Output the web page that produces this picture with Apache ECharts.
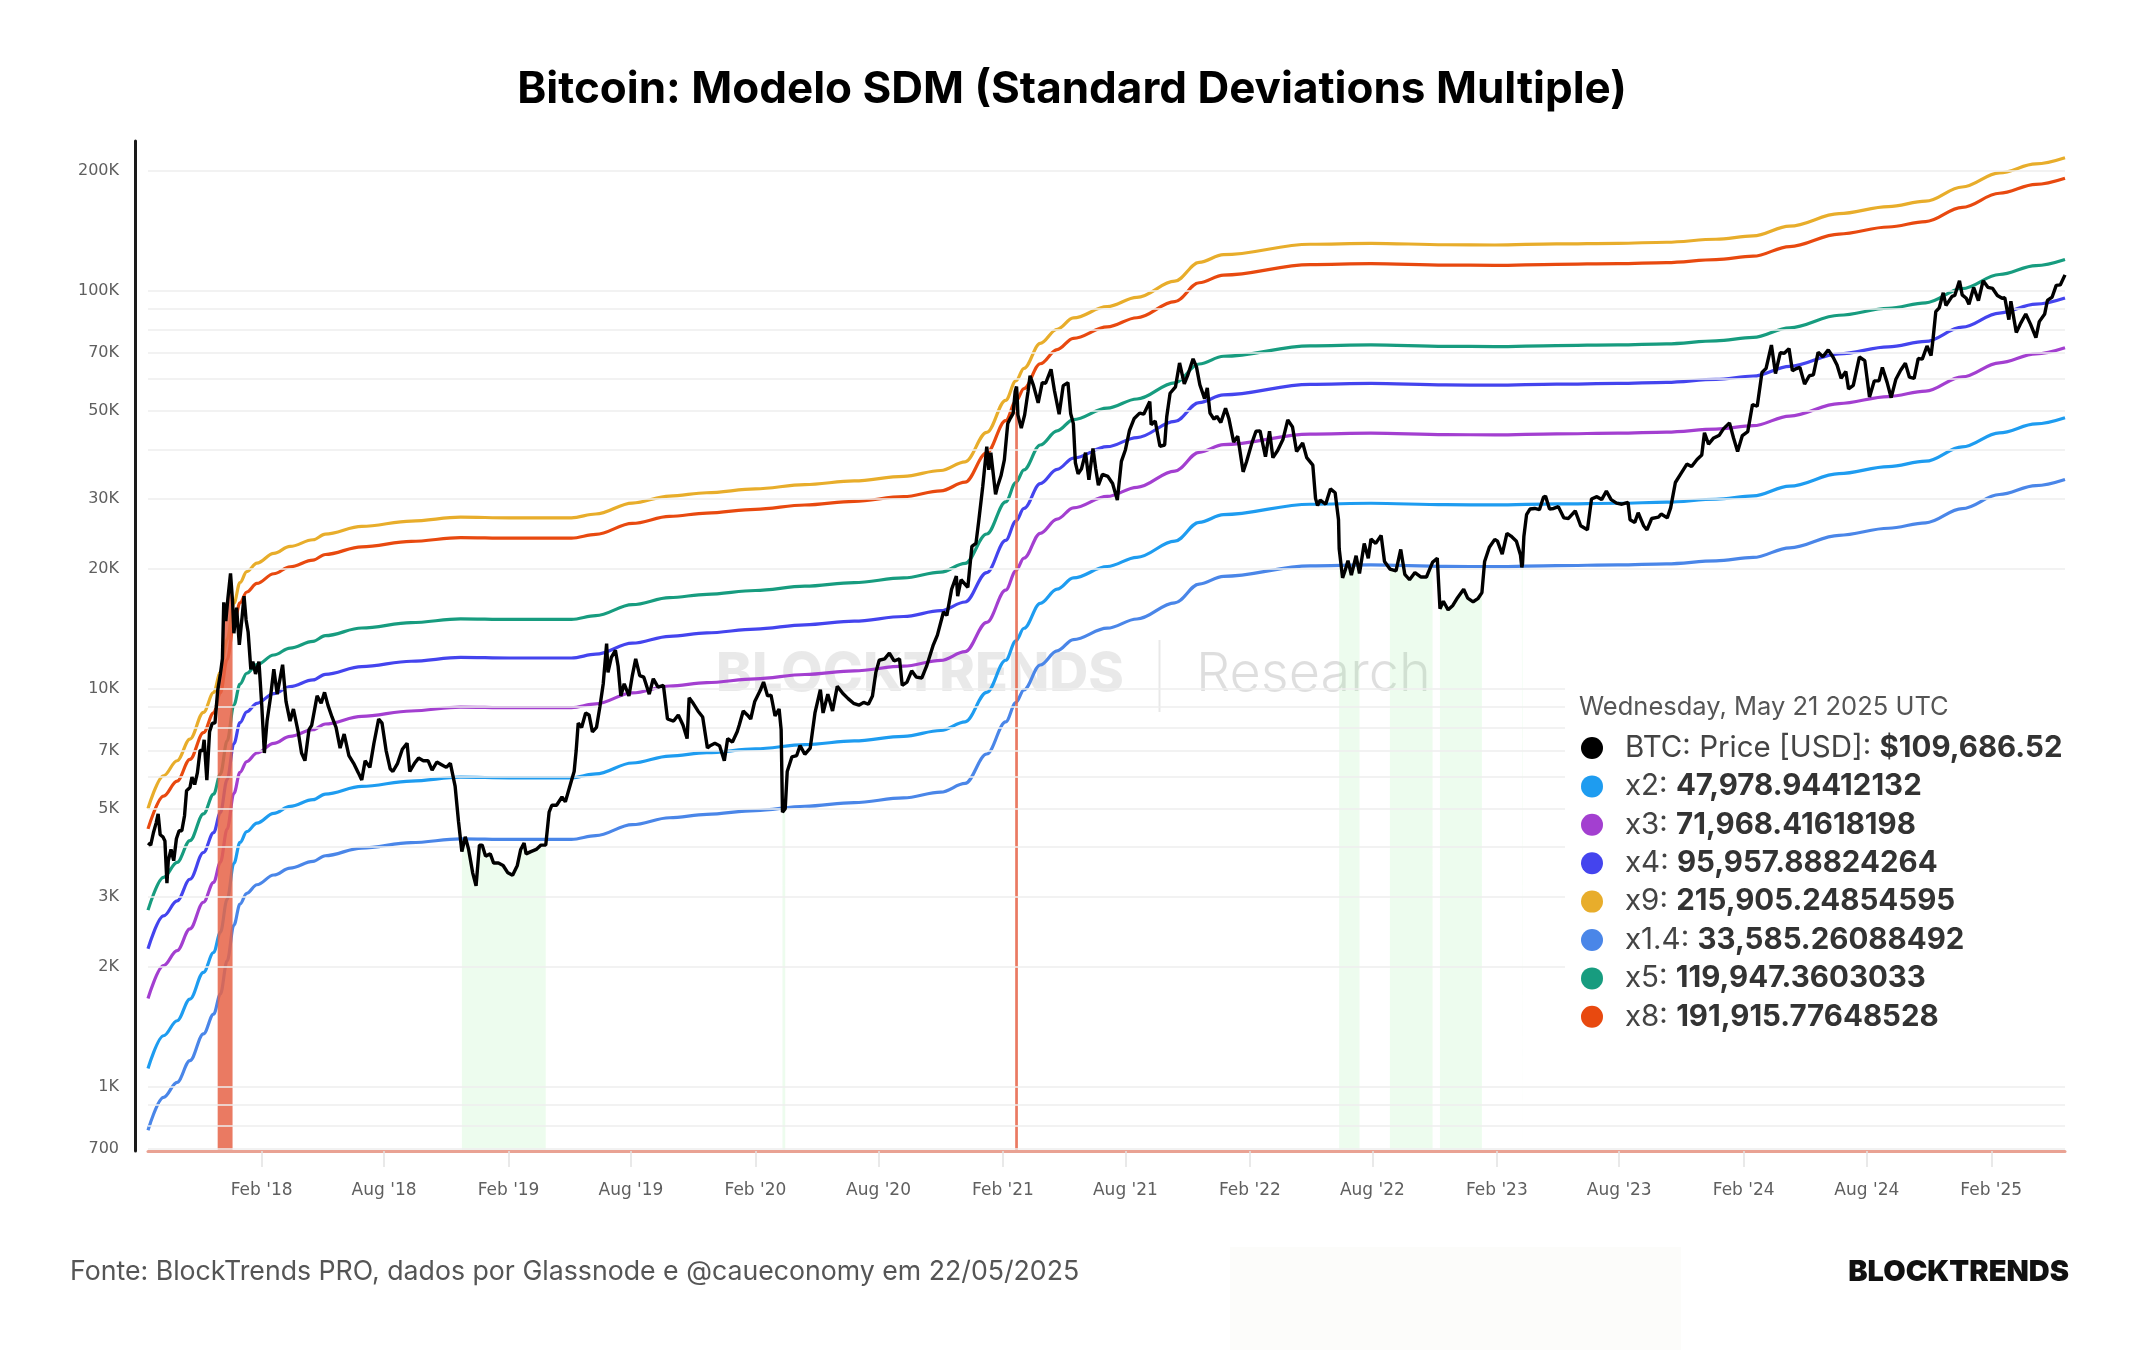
<!DOCTYPE html>
<html><head><meta charset="utf-8">
<script src="https://cdn.jsdelivr.net/npm/echarts@6/dist/echarts.min.js"></script>
<style>html,body{margin:0;padding:0;background:#fff}#c{width:2144px;height:1350px}</style>
</head><body><div id="c"></div>
<script>
// ---------------- DATA ----------------
const btcPrice = [
['2017-08-17',4100],['2017-08-21',4050],['2017-08-25',4350],['2017-08-29',4600],['2017-09-01',4850],['2017-09-04',4300],['2017-09-08',4250],['2017-09-11',4150],['2017-09-14',3250],['2017-09-16',3700],['2017-09-20',3950],['2017-09-24',3700],['2017-09-28',4200],
['2017-10-02',4400],['2017-10-06',4400],['2017-10-10',4800],['2017-10-13',5550],['2017-10-18',5650],['2017-10-21',6000],['2017-10-25',5750],['2017-10-29',6150],['2017-11-02',7000],['2017-11-06',7000],['2017-11-08',7450],['2017-11-12',5900],['2017-11-16',7800],['2017-11-20',8200],['2017-11-24',8200],['2017-11-28',9900],
['2017-12-02',10900],['2017-12-05',11900],['2017-12-07',16500],['2017-12-10',14800],['2017-12-13',16800],['2017-12-17',19500],['2017-12-20',16600],['2017-12-22',13800],['2017-12-26',16000],['2017-12-30',12900],
['2018-01-03',15100],['2018-01-06',17100],['2018-01-09',14900],['2018-01-12',13900],['2018-01-16',11200],['2018-01-19',11700],['2018-01-23',10900],['2018-01-28',11700],['2018-02-01',9200],['2018-02-05',6900],['2018-02-09',8300],['2018-02-14',9500],['2018-02-19',11200],['2018-02-24',9700],
['2018-03-04',11500],['2018-03-09',9300],['2018-03-15',8300],['2018-03-20',8900],['2018-03-27',7800],['2018-04-01',6900],['2018-04-06',6600],['2018-04-12',7900],['2018-04-16',8100],['2018-04-24',9600],['2018-04-30',9200],['2018-05-05',9800],['2018-05-10',9100],['2018-05-16',8500],['2018-05-22',8000],['2018-05-28',7100],
['2018-06-03',7700],['2018-06-10',6800],['2018-06-17',6500],['2018-06-24',6150],['2018-06-29',5900],['2018-07-04',6600],['2018-07-11',6350],['2018-07-17',7300],['2018-07-24',8400],['2018-07-29',8200],['2018-08-04',7000],['2018-08-10',6300],['2018-08-14',6200],['2018-08-21',6500],['2018-08-28',7050],
['2018-09-04',7300],['2018-09-08',6200],['2018-09-15',6500],['2018-09-21',6700],['2018-09-28',6600],['2018-10-05',6600],['2018-10-11',6250],['2018-10-18',6550],['2018-10-25',6450],['2018-11-01',6350],['2018-11-07',6500],['2018-11-14',5700],['2018-11-19',4650],['2018-11-24',3900],['2018-11-29',4250],
['2018-12-04',3950],['2018-12-10',3450],['2018-12-15',3200],['2018-12-20',4050],['2018-12-24',4050],['2018-12-29',3800],['2019-01-05',3850],['2019-01-10',3650],['2019-01-17',3650],['2019-01-24',3600],['2019-01-31',3450],['2019-02-07',3400],['2019-02-14',3600],['2019-02-19',3950],['2019-02-24',4100],['2019-02-27',3850],
['2019-03-06',3900],['2019-03-14',3950],['2019-03-21',4050],['2019-03-28',4050],['2019-04-02',4900],['2019-04-06',5100],['2019-04-13',5100],['2019-04-21',5350],['2019-04-26',5200],['2019-05-04',5800],['2019-05-09',6200],['2019-05-12',7000],['2019-05-15',8200],['2019-05-20',8000],['2019-05-26',8700],['2019-05-31',8600],
['2019-06-05',7800],['2019-06-11',8000],['2019-06-16',9000],['2019-06-21',10300],['2019-06-26',13000],['2019-06-28',11000],['2019-07-03',12000],['2019-07-09',12500],['2019-07-13',11400],['2019-07-17',9600],['2019-07-22',10300],['2019-07-29',9600],['2019-08-03',10800],['2019-08-08',11900],['2019-08-14',10800],['2019-08-20',10700],['2019-08-28',9700],
['2019-09-03',10600],['2019-09-10',10100],['2019-09-18',10200],['2019-09-24',8400],['2019-10-03',8300],['2019-10-10',8600],['2019-10-17',8100],['2019-10-23',7500],['2019-10-26',9500],['2019-11-01',9200],['2019-11-08',8800],['2019-11-15',8500],['2019-11-22',7100],['2019-11-26',7200],
['2019-12-03',7300],['2019-12-10',7200],['2019-12-17',6600],['2019-12-22',7500],['2019-12-29',7350],['2020-01-05',7800],['2020-01-08',8100],['2020-01-14',8800],['2020-01-20',8600],['2020-01-25',8400],['2020-01-31',9300],['2020-02-08',9900],['2020-02-13',10400],['2020-02-19',9600],['2020-02-24',9650],
['2020-03-01',8550],['2020-03-07',8900],['2020-03-10',7900],['2020-03-12',4900],['2020-03-16',5000],['2020-03-19',6200],['2020-03-26',6750],['2020-04-02',6800],['2020-04-07',7200],['2020-04-14',6850],['2020-04-22',7100],['2020-04-29',8700],['2020-05-07',9950],['2020-05-11',8700],['2020-05-18',9700],['2020-05-25',8800],
['2020-06-01',10150],['2020-06-09',9750],['2020-06-17',9450],['2020-06-25',9200],['2020-07-03',9100],['2020-07-10',9250],['2020-07-17',9150],['2020-07-23',9600],['2020-07-28',11000],['2020-08-02',11800],['2020-08-10',11900],['2020-08-17',12300],['2020-08-24',11750],
['2020-09-01',11900],['2020-09-05',10200],['2020-09-12',10400],['2020-09-19',11100],['2020-09-26',10700],['2020-10-04',10650],['2020-10-11',11400],['2020-10-21',12900],['2020-10-27',13650],['2020-11-05',15600],['2020-11-10',15300],['2020-11-17',17800],['2020-11-24',19200],['2020-11-26',17100],
['2020-12-01',18800],['2020-12-11',18000],['2020-12-17',22800],['2020-12-23',23200],['2020-12-27',26300],['2021-01-02',32200],['2021-01-08',40600],['2021-01-11',35500],['2021-01-14',39200],['2021-01-21',30800],['2021-01-24',32300],['2021-01-29',34300],
['2021-02-03',37600],['2021-02-08',46400],['2021-02-12',47900],['2021-02-16',49200],['2021-02-19',55900],['2021-02-21',57500],['2021-02-22',54000],['2021-02-23',48800],['2021-02-28',45200],['2021-03-05',48800],['2021-03-10',55900],['2021-03-13',61200],['2021-03-18',57900],['2021-03-25',52300],['2021-03-31',58800],
['2021-04-05',58600],['2021-04-13',63500],['2021-04-18',56200],['2021-04-25',49000],['2021-05-01',57800],['2021-05-08',58800],['2021-05-12',49200],['2021-05-16',46400],['2021-05-19',37000],['2021-05-23',34700],['2021-05-28',35700],
['2021-06-03',39200],['2021-06-08',33500],['2021-06-14',40200],['2021-06-18',35800],['2021-06-22',32500],['2021-06-28',34600],['2021-07-06',34200],['2021-07-13',32800],['2021-07-20',29800],['2021-07-26',37300],['2021-08-01',39900],['2021-08-07',44600],['2021-08-14',47800],['2021-08-22',49300],['2021-08-28',49000],
['2021-09-06',52700],['2021-09-08',46100],['2021-09-14',47100],['2021-09-21',40700],['2021-09-28',41000],['2021-10-01',48200],['2021-10-06',55300],['2021-10-14',57400],['2021-10-20',65900],['2021-10-27',58400],['2021-11-01',61300],['2021-11-09',67500],['2021-11-14',64400],['2021-11-19',58100],['2021-11-26',53600],['2021-11-30',57000],
['2021-12-04',49300],['2021-12-10',47600],['2021-12-14',48400],['2021-12-20',46700],['2021-12-27',50700],['2022-01-01',47700],['2022-01-08',41700],['2022-01-14',43100],['2022-01-22',35100],['2022-01-27',37200],['2022-02-04',41500],['2022-02-10',44400],['2022-02-16',44500],['2022-02-24',38300],
['2022-03-02',44400],['2022-03-07',38100],['2022-03-14',39700],['2022-03-22',42400],['2022-03-29',47400],['2022-04-05',45500],['2022-04-11',39500],['2022-04-20',41500],['2022-04-26',38100],['2022-05-05',36500],['2022-05-09',30100],['2022-05-12',28900],['2022-05-16',29800],['2022-05-24',29100],['2022-05-31',31800],
['2022-06-07',31100],['2022-06-12',26600],['2022-06-13',22500],['2022-06-18',19000],['2022-06-22',19900],['2022-06-26',21000],['2022-07-01',19300],['2022-07-08',21600],['2022-07-13',19500],['2022-07-20',23200],['2022-07-26',21300],['2022-07-30',23800],['2022-08-06',23200],['2022-08-14',24300],['2022-08-19',20900],['2022-08-27',20000],
['2022-09-05',19800],['2022-09-12',22400],['2022-09-18',19400],['2022-09-25',18800],['2022-10-03',19600],['2022-10-12',19100],['2022-10-20',19100],['2022-10-29',20800],['2022-11-05',21300],['2022-11-09',15900],['2022-11-14',16600],['2022-11-21',15800],['2022-11-28',16200],
['2022-12-05',16950],['2022-12-14',17800],['2022-12-20',16900],['2022-12-28',16550],['2023-01-04',16850],['2023-01-10',17450],['2023-01-14',20900],['2023-01-21',22700],['2023-01-29',23750],['2023-02-02',23500],['2023-02-09',21800],['2023-02-16',24600],['2023-02-22',24200],
['2023-03-02',23500],['2023-03-08',21700],['2023-03-10',20200],['2023-03-11',20600],['2023-03-13',24100],['2023-03-17',27400],['2023-03-22',28300],['2023-03-29',28400],['2023-04-05',28200],['2023-04-11',30300],['2023-04-14',30500],['2023-04-20',28300],['2023-04-26',28400],
['2023-05-03',28700],['2023-05-11',26900],['2023-05-18',26800],['2023-05-28',28000],['2023-06-05',25700],['2023-06-15',25100],['2023-06-21',30000],['2023-06-29',30400],['2023-07-06',29900],['2023-07-13',31400],['2023-07-20',29900],['2023-07-28',29300],['2023-08-05',29100],['2023-08-14',29400],['2023-08-17',26600],['2023-08-24',26200],['2023-08-29',27700],
['2023-09-06',25700],['2023-09-11',25100],['2023-09-18',26800],['2023-09-28',27000],['2023-10-02',27500],['2023-10-11',26900],['2023-10-16',28500],['2023-10-23',33000],['2023-10-30',34500],['2023-11-09',36700],['2023-11-16',36200],['2023-11-24',37700],
['2023-12-01',38700],['2023-12-05',44000],['2023-12-11',41200],['2023-12-18',42600],['2023-12-27',43400],['2024-01-02',45000],['2024-01-11',46600],['2024-01-17',42700],['2024-01-23',39500],['2024-01-30',43300],['2024-02-07',44300],['2024-02-14',51800],['2024-02-21',51300],['2024-02-28',62400],
['2024-03-05',63800],['2024-03-13',73100],['2024-03-19',62000],['2024-03-26',69900],['2024-04-01',69700],['2024-04-08',71600],['2024-04-13',63000],['2024-04-19',63800],['2024-04-24',64300],['2024-05-01',58300],['2024-05-08',61200],['2024-05-14',61500],['2024-05-21',70100],['2024-05-28',68300],
['2024-06-05',71100],['2024-06-12',68200],['2024-06-18',65100],['2024-06-24',60300],['2024-07-01',62700],['2024-07-05',56700],['2024-07-12',57900],['2024-07-21',68200],['2024-07-29',66800],['2024-08-05',54100],['2024-08-12',59400],['2024-08-19',59400],['2024-08-24',64200],['2024-08-31',58900],
['2024-09-06',53900],['2024-09-13',60000],['2024-09-20',63200],['2024-09-27',65800],['2024-10-03',60700],['2024-10-10',60300],['2024-10-16',67600],['2024-10-22',67400],['2024-10-29',72700],['2024-11-04',68800],['2024-11-07',75900],['2024-11-11',88700],['2024-11-16',90600],['2024-11-22',98900],['2024-11-26',91900],
['2024-12-05',96900],['2024-12-09',97400],['2024-12-16',106000],['2024-12-20',97700],['2024-12-26',95800],['2024-12-30',92600],['2025-01-06',102000],['2025-01-13',94500],['2025-01-20',106100],['2025-01-27',102100],['2025-02-03',101400],['2025-02-10',97400],['2025-02-17',95800],['2025-02-21',96100],['2025-02-27',84700],
['2025-03-02',94200],['2025-03-10',78600],['2025-03-16',82600],['2025-03-24',87500],['2025-03-31',82500],['2025-04-08',76300],['2025-04-13',83700],['2025-04-21',87500],['2025-04-25',94600],['2025-05-02',96500],['2025-05-08',103200],['2025-05-14',103500],['2025-05-21',109686.52]
];

// SDM base curve (x1)
const sdmBase = [
['2017-08-17',556],['2017-09-09',672],['2017-09-29',733],['2017-10-18',831],['2017-11-07',970],['2017-11-22',1088],['2017-12-02',1222],['2017-12-12',1480],['2017-12-22',1822],['2017-12-31',2056],
['2018-01-10',2189],['2018-01-25',2300],['2018-02-19',2433],['2018-03-15',2533],['2018-04-18',2633],['2018-05-06',2720],['2018-06-29',2844],['2018-09-10',2933],['2018-11-22',3000],
['2019-02-02',2989],['2019-05-05',2989],['2019-06-10',3056],['2019-08-03',3256],['2019-09-27',3389],['2019-11-21',3456],['2020-02-01',3533],['2020-04-14',3622],['2020-06-26',3700],['2020-09-07',3800],['2020-11-01',3930],['2020-12-07',4133],
['2021-01-08',4900],['2021-02-05',5900],['2021-02-20',6600],['2021-03-04',7100],['2021-03-28',8200],['2021-04-22',8900],['2021-05-16',9500],['2021-07-05',10150],['2021-08-18',10700],['2021-10-13',11750],['2021-11-18',13100],['2021-12-24',13700],
['2022-05-01',14550],['2022-07-30',14633],['2022-11-17',14511],['2023-01-29',14489],['2023-04-30',14578],['2023-07-30',14633],['2023-10-10',14722],['2023-12-22',14978],
['2024-02-15',15278],['2024-04-09',16156],['2024-06-21',17367],['2024-09-02',18089],['2024-10-27',18667],['2024-12-20',20267],['2025-02-13',21989],['2025-04-08',23156],['2025-05-21',23989.47]
];

const bandNames = ['x2','x3','x4','x9','x1.4','x5','x8'];
const bandMultipliers = [2,3,4,9,1.4,5,8];
const bandColors = ['#1E9CF0','#A33FD0','#4444EE','#E8AD2B','#4A86E8','#179C7F','#E8490F'];
const legendValues = ['47,978.94412132','71,968.41618198','95,957.88824264','215,905.24854595','33,585.26088492','119,947.3603033','191,915.77648528'];
const priceLegendLabel = 'BTC: Price [USD]: ';
const priceLegendValue = '$109,686.52';
const legendDate = 'Wednesday, May 21 2025 UTC';

const redZones = [['2017-11-28','2017-12-21'],['2021-02-19','2021-02-23']];
const greenZones = [['2018-11-22','2019-03-30'],['2020-03-12','2020-03-16'],['2022-06-13','2022-07-14'],['2022-08-24','2022-10-29'],['2022-11-07','2023-01-12'],['2023-03-09','2023-03-11']];

const yTickValues = [700,1000,2000,3000,5000,7000,10000,20000,30000,50000,70000,100000,200000];
const yTickLabels = ['700','1K','2K','3K','5K','7K','10K','20K','30K','50K','70K','100K','200K'];
const yGridValues = [700,800,900,1000,2000,3000,4000,5000,6000,7000,8000,9000,10000,20000,30000,40000,50000,60000,70000,80000,90000,100000,200000];
const xTickDates = ['2018-02-01','2018-08-01','2019-02-01','2019-08-01','2020-02-01','2020-08-01','2021-02-01','2021-08-01','2022-02-01','2022-08-01','2023-02-01','2023-08-01','2024-02-01','2024-08-01','2025-02-01'];
const xTickLabels = ["Feb '18","Aug '18","Feb '19","Aug '19","Feb '20","Aug '20","Feb '21","Aug '21","Feb '22","Aug '22","Feb '23","Aug '23","Feb '24","Aug '24","Feb '25"];
const xRange = ['2017-08-17','2025-05-21'];

const titleText = 'Bitcoin: Modelo SDM (Standard Deviations Multiple)';
const sourceText = 'Fonte: BlockTrends PRO, dados por Glassnode e @caueconomy em 22/05/2025';

// ---------------- CHART ----------------
const FONT = 'Inter';
const chart = echarts.init(document.getElementById('c'), null, {renderer:'canvas', width:2144, height:1350});
const tParse = d => Date.parse(d + 'T00:00:00Z');
const xTickTimes = xTickDates.map(tParse);
const toXY = arr => arr.map(([d,v]) => [tParse(d), v]);

function zoneData(ranges){
  const out = [];
  ranges.forEach(([a,b]) => {
    const ta = tParse(a), tb = tParse(b);
    btcPrice.forEach(p => { const t = tParse(p[0]); if (t >= ta && t <= tb) out.push([t, p[1]]); });
    out.push([tb + 3600000, null]);
  });
  return out;
}
function labelFor(v){
  let best = 0, bd = Infinity;
  xTickTimes.forEach((t,i) => { const d = Math.abs(t - v); if (d < bd) { bd = d; best = i; } });
  return xTickLabels[best];
}

const series = [];
series.push({
  type:'line', data:[], z:1, silent:true,
  markLine:{
    silent:true, symbol:['none','none'], animation:false,
    lineStyle:{color:'#eeeeee', width:1.5, type:'solid'},
    emphasis:{disabled:true},
    data: yGridValues.map(v => {
      const k = yTickValues.indexOf(v);
      return {yAxis:v, label: k >= 0
        ? {show:true, position:'start', formatter: yTickLabels[k], distance:29, color:'#5f5f5f', fontSize:16, fontFamily:'DejaVu Sans'}
        : {show:false}};
    })
  }
});
series.push({
  type:'line', name:'green', data: zoneData(greenZones), showSymbol:false, silent:true, z:2,
  lineStyle:{width:0, opacity:0}, areaStyle:{color:'rgba(140,235,150,0.16)', opacity:1, origin:'start'}, connectNulls:false
});
bandNames.forEach((n,i) => {
  series.push({
    type:'line', name:n, data: sdmBase.map(([d,v]) => [tParse(d), v*bandMultipliers[i]]),
    showSymbol:false, silent:true, smooth:0.35, smoothMonotone:'x', z:3,
    lineStyle:{width:3.2, color:bandColors[i]}
  });
});
series.push({
  type:'line', name:'red', data: zoneData(redZones), showSymbol:false, silent:true, z:4,
  lineStyle:{width:0, opacity:0}, areaStyle:{color:'rgba(230,100,72,0.86)', opacity:1, origin:'start'}, connectNulls:false
});
series.push({
  type:'line', name:'BTC', data: toXY(btcPrice), showSymbol:false, silent:true, z:6,
  lineStyle:{width:3.4, color:'#000'}
});

const graphics = [
  {type:'text', x:1072, y:90, z:10, style:{text:titleText, font:'700 44px '+FONT, fill:'#000', align:'center', verticalAlign:'middle'}},
  {type:'text', x:1124, y:675, z:2, silent:true, style:{text:'BLOCKTRENDS', font:'800 54px '+FONT, fill:'rgba(0,0,0,0.085)', align:'right', verticalAlign:'middle'}},
  {type:'rect', z:2, silent:true, shape:{x:1158.5, y:640, width:2, height:72}, style:{fill:'rgba(0,0,0,0.09)'}},
  {type:'text', x:1196, y:675, z:2, silent:true, style:{text:'Research', font:'300 54px '+FONT, fill:'rgba(0,0,0,0.13)', align:'left', verticalAlign:'middle'}},
  {type:'rect', z:0, silent:true, shape:{x:1230, y:1247, width:451, height:103}, style:{fill:'#fcfcfa'}},
  {type:'text', x:70, y:1272, z:10, style:{text:sourceText, font:'400 26.7px '+FONT, fill:'#555', align:'left', verticalAlign:'middle'}},
  {type:'text', x:2069, y:1272, z:10, style:{text:'BLOCKTRENDS', font:'900 29px '+FONT, fill:'#111', align:'right', verticalAlign:'middle'}},
  {type:'rect', z:50, silent:true, shape:{x:1565, y:682, width:500, height:362}, style:{fill:'#fff'}},
  {type:'text', x:1579, y:707, z:51, style:{text:legendDate, font:'400 25.5px '+FONT, fill:'#555', align:'left', verticalAlign:'middle'}}
];
const rowLabels = [priceLegendLabel].concat(bandNames.map(n => n + ': '));
const rowValues = [priceLegendValue].concat(legendValues);
const rowColors = ['#000'].concat(bandColors);
rowLabels.forEach((lab,i) => {
  const y = 748 + i*38.4;
  graphics.push({type:'circle', z:51, shape:{cx:1592, cy:y, r:11}, style:{fill:rowColors[i]}});
  graphics.push({type:'text', x:1625, y:y, z:51, style:{
    text:'{a|' + lab + '}{b|' + rowValues[i] + '}', align:'left', verticalAlign:'middle',
    rich:{a:{font:'400 29.5px '+FONT, fill:'#444'}, b:{font:'700 29.5px '+FONT, fill:'#333'}}
  }});
});

chart.setOption({
  animation:false,
  backgroundColor:'#fff',
  grid:{left:148, right:79, top:141, bottom:199, containLabel:false},
  xAxis:{
    type:'value', min:tParse(xRange[0]), max:tParse(xRange[1]), z:5, scale:true,
    axisLine:{show:true, onZero:false, lineStyle:{color:'#E9A293', width:3}},
    axisTick:{show:true, customValues:xTickTimes, length:16, lineStyle:{color:'#e2e2e2', width:1.5}},
    axisLabel:{show:true, customValues:xTickTimes, formatter: v => labelFor(v), margin:31, fontSize:17, color:'#5f5f5f', fontFamily:'DejaVu Sans', showMinLabel:true, showMaxLabel:true},
    splitLine:{show:false}
  },
  yAxis:{
    type:'log', logBase:10, min:690, max:238000, offset:13,
    axisLine:{show:true, lineStyle:{color:'#1a1a1a', width:3}},
    axisTick:{show:false}, axisLabel:{show:false}, splitLine:{show:false}
  },
  series: series,
  graphic: graphics
});
</script></body></html>
